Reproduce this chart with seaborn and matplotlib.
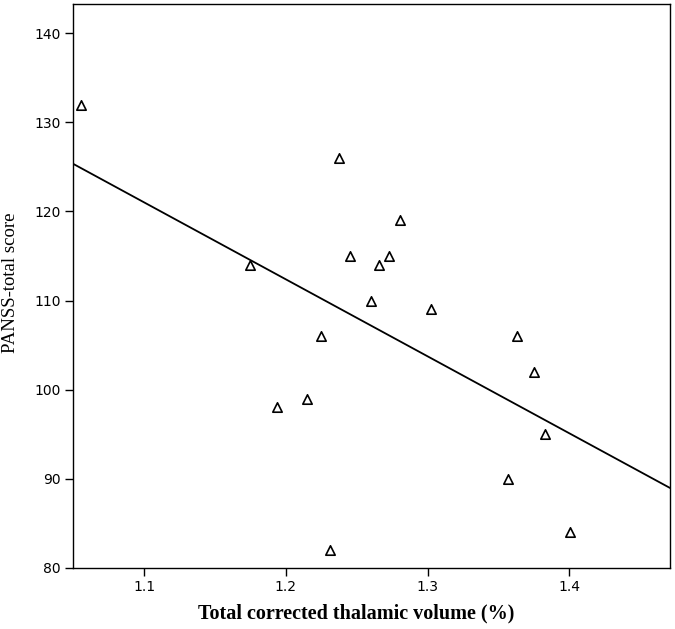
import matplotlib
matplotlib.use("Agg")
import matplotlib.pyplot as plt
import seaborn as sns
import numpy as np
import pandas as pd

# Data
thalamic_volume = [1.0553, 1.1746, 1.1935, 1.2151, 1.2245, 1.2311, 1.2374, 1.2450, 1.2600,
                   1.2657, 1.2727, 1.2805, 1.3026, 1.3565, 1.3628, 1.3750, 1.3828, 1.4007]
panss_total = [132, 114, 98, 99, 106, 82, 126, 115, 110,
               114, 115, 119, 109, 90, 106, 102, 95, 84]
x_ticks = [1.1, 1.2, 1.3, 1.4]
y_ticks = [80, 90, 100, 110, 120, 130, 140]

df = pd.DataFrame({"vol": thalamic_volume, "panss": panss_total})

sns.set_style("white")
plt.rcParams["font.family"] = ["DejaVu Sans"]

fig = plt.figure(figsize=(6.75, 6.29), dpi=100)
ax = fig.add_axes([73/675, 1 - 567.7/629, (670 - 73)/675, (567.7 - 4)/629])
ax.set_xlim(1.0497, 1.4711)
ax.set_ylim(80, 143.3)

sns.regplot(data=df, x="vol", y="panss", ax=ax, scatter=False, ci=None,
            truncate=False, color="black", line_kws={"linewidth": 1.3})
sns.scatterplot(data=df, x="vol", y="panss", ax=ax, marker="^", s=46,
                facecolor="white", edgecolor="black", linewidth=1.2, zorder=3)

ax.set_xlim(1.0497, 1.4711)
ax.set_ylim(80, 143.3)
ax.set_xticks(x_ticks)
ax.set_xticklabels([f"{t:.1f}" for t in x_ticks])
ax.set_yticks(y_ticks)
ax.set_yticklabels([str(t) for t in y_ticks])
ax.tick_params(axis="both", direction="out", length=6, width=1.0, color="black",
               labelsize=10, labelcolor="black", pad=3, bottom=True, left=True)
for sp in ax.spines.values():
    sp.set_color("black")
    sp.set_linewidth(1.0)

ax.set_xlabel("Total corrected thalamic volume (%)", family="Liberation Serif",
              fontweight="bold", fontsize=14.5, color="black")
ax.set_ylabel("PANSS-total score", family="Liberation Serif", fontsize=13.5,
              color="black")
ax.xaxis.set_label_coords((356 - 73) / (670 - 73), -(613 - 567.7) / (567.7 - 4), transform=ax.transAxes)
ax.yaxis.set_label_coords(-(73 - 10.5) / (670 - 73), (567.7 - 282.5) / (567.7 - 4), transform=ax.transAxes)
ax.xaxis.label.set_va("center")
ax.yaxis.label.set_va("center")

fig.savefig("out.png", dpi=100)
